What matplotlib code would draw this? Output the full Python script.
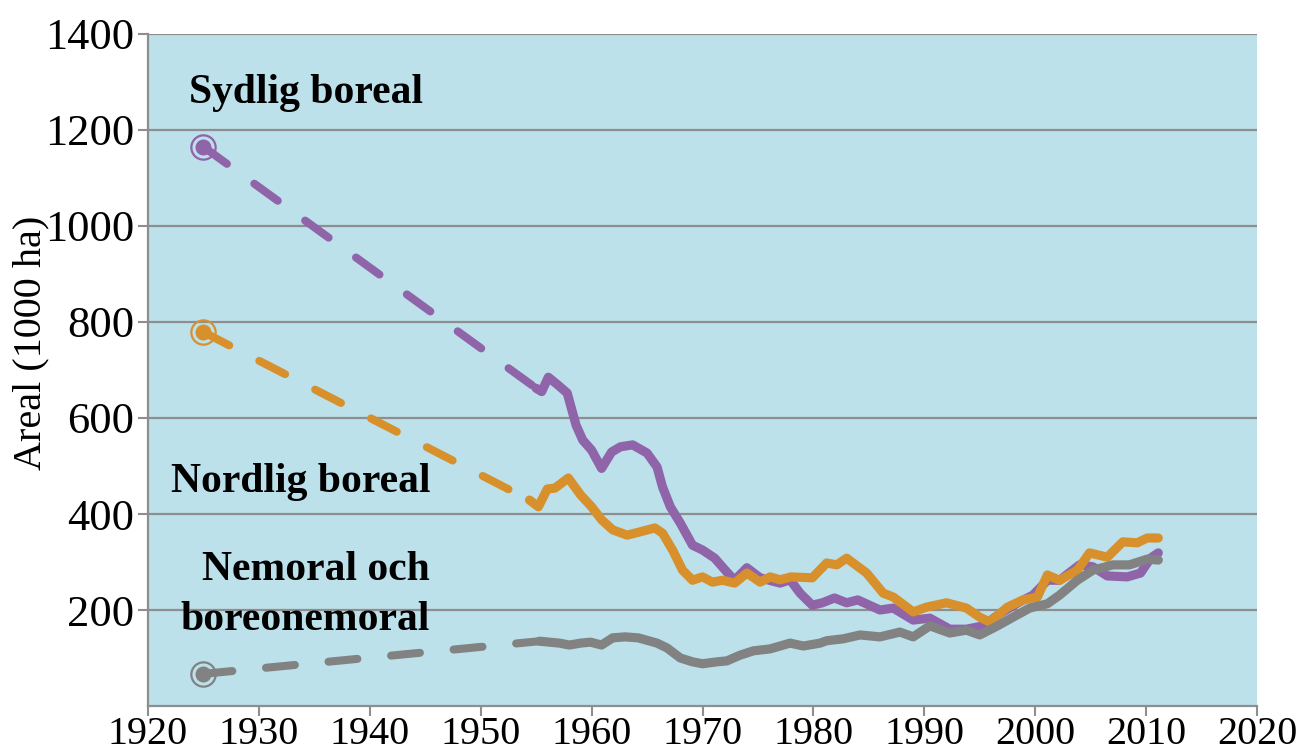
import matplotlib
matplotlib.use("Agg")
import matplotlib.pyplot as plt

# ---- data ----
start_year = 1925
sb_start = 1165
nb_start = 779
nm_start = 67

sb_years = [1955.0, 1955.5, 1956.1, 1957.0, 1957.8, 1958.6, 1959.2, 1960.0, 1960.9, 1961.8,
            1962.6, 1963.7, 1965.0, 1965.9, 1966.4, 1967.1, 1968.0, 1969.1, 1970.0, 1971.1,
            1972.2, 1972.9, 1974.0, 1975.2, 1977.0, 1977.9, 1978.8, 1979.9, 1980.8, 1981.9,
            1983.0, 1984.0, 1986.0, 1987.2, 1989.0, 1990.5, 1992.3, 1993.8, 1995.3, 1996.8,
            1998.6, 1999.8, 2001.1, 2002.2, 2004.0, 2005.2, 2006.5, 2008.3, 2009.5, 2010.4, 2011.1]
sb_vals = [662, 655, 685, 668, 652, 585, 554, 533, 495, 529,
           540, 544, 527, 498, 456, 415, 381, 335, 325, 308,
           279, 262, 288, 267, 256, 263, 235, 210, 215, 225,
           215, 221, 200, 204, 179, 183, 160, 160, 167, 192,
           217, 231, 262, 262, 294, 290, 271, 269, 277, 308, 319]

nb_years = [1954.4, 1955.2, 1956.0, 1956.7, 1957.9, 1959.0, 1960.0, 1960.9, 1961.9, 1963.2,
            1964.4, 1965.7, 1966.4, 1967.3, 1968.2, 1969.1, 1970.0, 1970.9, 1971.8, 1972.9,
            1974.0, 1975.2, 1976.1, 1977.0, 1978.0, 1979.9, 1981.2, 1982.1, 1983.0, 1984.8,
            1986.3, 1987.2, 1989.0, 1990.2, 1992.0, 1993.8, 1995.0, 1995.9, 1997.5, 1998.9,
            2000.2, 2001.1, 2002.2, 2003.8, 2004.9, 2006.5, 2007.9, 2009.2, 2010.1, 2011.1]
nb_vals = [429, 415, 452, 454, 475, 440, 415, 388, 367, 356,
           363, 371, 360, 325, 283, 262, 269, 258, 262, 256,
           277, 258, 269, 263, 269, 267, 298, 294, 308, 277,
           235, 227, 196, 206, 215, 204, 185, 175, 206, 221,
           227, 273, 262, 283, 319, 310, 342, 340, 350, 350]

nm_years = [1955.3, 1957.1, 1958.0, 1959.0, 1959.9, 1960.9, 1961.9, 1963.0, 1964.2, 1965.9,
            1966.8, 1968.0, 1969.1, 1970.0, 1971.3, 1972.2, 1973.4, 1974.6, 1976.1, 1977.0,
            1977.9, 1979.1, 1980.6, 1981.2, 1982.7, 1984.2, 1986.0, 1987.8, 1989.0, 1990.5,
            1992.3, 1993.8, 1995.0, 1996.6, 1998.0, 1999.5, 2001.1, 2002.2, 2003.8, 2005.2,
            2007.0, 2008.5, 2010.1, 2011.1]
nm_vals = [135, 131, 127, 131, 133, 127, 142, 144, 142, 131,
           121, 100, 92, 88, 92, 94, 106, 115, 119, 125,
           131, 125, 131, 136, 140, 148, 144, 154, 144, 167,
           152, 158, 148, 167, 185, 204, 213, 231, 262, 283,
           294, 294, 306, 304]

x_ticks = [1920, 1930, 1940, 1950, 1960, 1970, 1980, 1990, 2000, 2010, 2020]
y_ticks = [200, 400, 600, 800, 1000, 1200, 1400]

labels = ["Sydlig boreal", "Nordlig boreal", "Nemoral och", "boreonemoral"]
y_title = "Areal (1000 ha)"

purple = "#9064A9"
orange = "#D8902C"
gray = "#828282"
bg = "#BCE1EB"
gridc = "#8E8E8E"

plt.rcParams['font.family'] = ['Liberation Serif', 'DejaVu Serif']

fig = plt.figure(figsize=(13.03, 7.51), dpi=100)
ax = fig.add_axes([148 / 1303, 1 - 706 / 751, (1257 - 148) / 1303, (706 - 34) / 751])
ax.set_facecolor(bg)
ax.set_xlim(1920, 2020)
ax.set_ylim(0, 1400)

for yv in y_ticks:
    ax.axhline(yv, color=gridc, lw=1.6, zorder=1)

lw = 6.6
series = [
    (sb_start, sb_years, sb_vals, purple),
    (nb_start, nb_years, nb_vals, orange),
    (nm_start, nm_years, nm_vals, gray),
]
for s0, yrs, vals, c in series:
    ln, = ax.plot([start_year, yrs[0]], [s0, vals[0]], color=c, lw=lw - 0.8,
                  dash_capstyle='round', zorder=3)
    ln.set_dashes([3.6, 4.2])
    ax.plot(yrs, vals, color=c, lw=lw, solid_capstyle='round',
            solid_joinstyle='round', zorder=4)
    ax.plot([start_year], [s0], 'o', color=c, ms=10.5, zorder=5)
    ax.plot([start_year], [s0], 'o', mfc='none', mec=c, ms=17.5, mew=1.6, zorder=5)

ax.set_xticks(x_ticks)
ax.set_yticks(y_ticks)
ax.tick_params(axis='both', colors='black', color=gridc,
               length=7, width=1.5, direction='out')
ax.tick_params(axis='x', labelsize=29, pad=0)
ax.tick_params(axis='y', labelsize=32, pad=3)
for sp in ['top', 'right']:
    ax.spines[sp].set_visible(False)
for sp in ['left', 'bottom']:
    ax.spines[sp].set_color(gridc)
    ax.spines[sp].set_linewidth(1.6)

ax.set_ylabel(y_title, fontsize=29, labelpad=0)
ax.yaxis.set_label_coords(-0.089, 0.54)

tkw = dict(fontsize=30, fontweight='bold', color='black', zorder=6)
ax.text(1934.25, 1277, labels[0], ha='center', va='center', **tkw)
ax.text(1933.8, 467, labels[1], ha='center', va='center', **tkw)
ax.text(1945.4, 283, labels[2], ha='right', va='center', **tkw)
ax.text(1945.4, 179, labels[3], ha='right', va='center', **tkw)

fig.savefig("out.png", dpi=100)
